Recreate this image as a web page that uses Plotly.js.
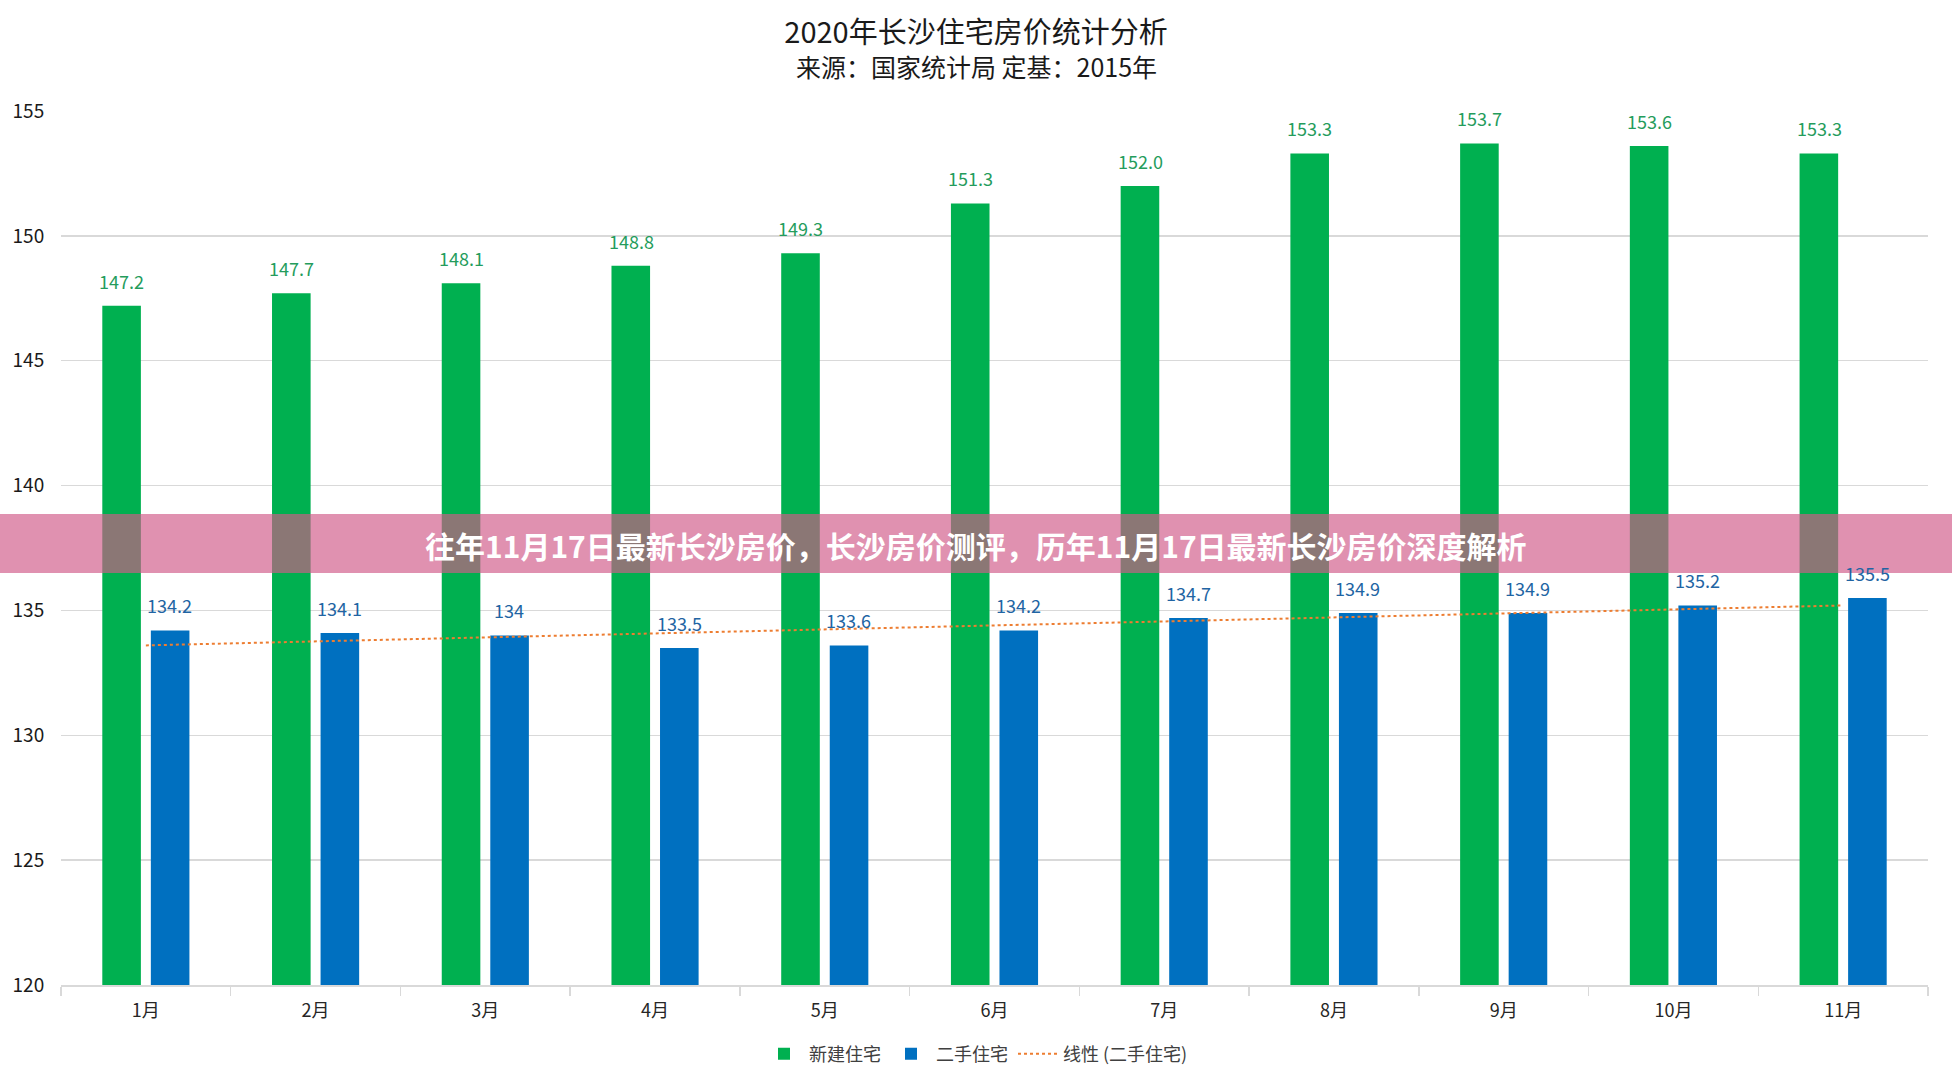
<!DOCTYPE html>
<html>
<head>
<meta charset="utf-8">
<script src="https://cdn.plot.ly/plotly-3.0.1.min.js"></script>
<style>html,body{margin:0;padding:0;background:#fff;}#chart{width:1952px;height:1087px;}</style>
</head>
<body>
<div id="chart"></div>
<script>
// ---- data ----
const months = ['1月','2月','3月','4月','5月','6月','7月','8月','9月','10月','11月'];
const newHomes = [147.2,147.7,148.1,148.8,149.3,151.3,152.0,153.3,153.7,153.6,153.3];
const usedHomes = [134.2,134.1,134,133.5,133.6,134.2,134.7,134.9,134.9,135.2,135.5];
const trendMonths = ['1月','11月'];
const trendValues = [133.6,135.2];
const seriesNames = ['新建住宅','二手住宅','线性 (二手住宅)'];
const titleText = '2020年长沙住宅房价统计分析';
const subtitleText = '来源：国家统计局 定基：2015年';
const bannerText = '往年11月17日最新长沙房价，长沙房价测评，历年11月17日最新长沙房价深度解析';

// ---- style ----
const FONT = '"Noto Sans CJK SC", "Microsoft YaHei", sans-serif';
const W = 1952, H = 1087;
const M = {l: 61, r: 24, t: 111, b: 102};
const PW = W - M.l - M.r, PH = H - M.t - M.b;
const GREEN = '#00B050', BLUE = '#0070C0', ORANGE = '#ED7D31';
const GREEN_TXT = '#249C5C', BLUE_TXT = '#2164A3';
const LABEL_XSHIFT = 24, LABEL_YSHIFT = 25;

const traces = [
  {type:'bar', name: seriesNames[0], x: months, y: newHomes, marker:{color: GREEN}, hoverinfo:'y'},
  {type:'bar', name: seriesNames[1], x: months, y: usedHomes, marker:{color: BLUE}, hoverinfo:'y'},
  {type:'scatter', mode:'lines', name: seriesNames[2], x: trendMonths, y: trendValues,
   line:{color: ORANGE, width: 2, dash:'dot'}, hoverinfo:'skip'}
];

const annotations = [];
months.forEach((m, i) => {
  annotations.push({x: m, y: newHomes[i], xref:'x', yref:'y', text: newHomes[i].toFixed(1),
    showarrow:false, xshift:-LABEL_XSHIFT, yshift:LABEL_YSHIFT, yanchor:'middle',
    font:{family: FONT, size: 18, color: GREEN_TXT}});
  annotations.push({x: m, y: usedHomes[i], xref:'x', yref:'y', text: String(usedHomes[i]),
    showarrow:false, xshift:LABEL_XSHIFT, yshift:LABEL_YSHIFT, yanchor:'middle',
    font:{family: FONT, size: 18, color: BLUE_TXT}});
});
// subtitle
annotations.push({xref:'paper', yref:'paper', x:(W/2 - M.l)/PW, y: 1 + (M.t - 66)/PH,
  xanchor:'center', yanchor:'middle', showarrow:false, text: subtitleText,
  font:{family: FONT, size: 25, color:'#1a1a1a'}});
// banner text
annotations.push({xref:'paper', yref:'paper', x:(W/2 - M.l)/PW, y: (H - M.b - 545)/PH,
  xanchor:'center', yanchor:'middle', showarrow:false, text: '<b>' + bannerText + '</b>',
  font:{family: FONT, size: 30, color:'#ffffff', weight: 900}});

const shapes = [{
  type:'rect', xref:'paper', yref:'paper', layer:'above',
  x0: -M.l/PW, x1: 1 + M.r/PW,
  y0: (H - M.b - 573)/PH, y1: (H - M.b - 514)/PH,
  fillcolor:'rgba(208,90,136,0.667)', line:{width:0}
}];

const layout = {
  width: W, height: H,
  margin: M,
  paper_bgcolor:'#ffffff', plot_bgcolor:'#ffffff',
  font:{family: FONT, color:'#404040'},
  title:{text: titleText, x:0.5, xref:'container', y: 1 - 33/H, yref:'container',
    xanchor:'center', yanchor:'middle', font:{family: FONT, size: 29, color:'#1a1a1a'}},
  barmode:'group', bargap: 0.428, bargroupgap: 0.205,
  showlegend: true,
  legend:{orientation:'h', x:(W/2 - M.l)/PW, xanchor:'center', y: -(1054 - (H - M.b))/PH, yanchor:'middle',
    font:{family: FONT, size: 18, color:'#404040'}, itemwidth: 40, traceorder:'normal'},
  xaxis:{type:'category', tickson:'boundaries', ticks:'outside', ticklen: 9, tickcolor:'#d9d9d9', tickwidth: 1.5,
    showline:true, linecolor:'#d9d9d9', linewidth: 1.5, showgrid:false, ticklabelstandoff: 9,
    tickfont:{family: FONT, size: 18, color:'#262626'}},
  yaxis:{range:[120,155], dtick:5, tick0:120, showgrid:true, gridcolor:'#d9d9d9', gridwidth:1.5,
    zeroline:false, showline:false, ticks:'outside', ticklen: 12, tickcolor:'rgba(0,0,0,0)',
    tickfont:{family: FONT, size: 19, color:'#1a1a1a'}},
  annotations: annotations,
  shapes: shapes
};

Plotly.newPlot('chart', traces, layout, {displayModeBar:false, staticPlot:true});
</script>
</body>
</html>
